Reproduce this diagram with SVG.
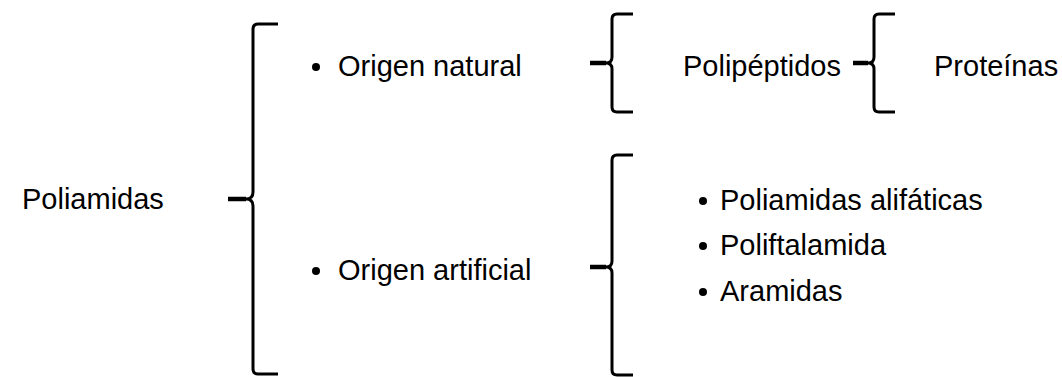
<svg xmlns="http://www.w3.org/2000/svg" width="1062" height="377" viewBox="0 0 1062 377">
<style>
.t{font-family:"Liberation Sans",Arial,sans-serif;font-size:29px;fill:#000}
.b{fill:none;stroke:#000;stroke-width:3;stroke-linecap:butt;stroke-linejoin:round}
.tip{fill:none;stroke:#000;stroke-width:4.5}
</style>
<rect width="1062" height="377" fill="#fff"/>
<g id="connectors">
<g id="brace-main">
<path class="b" d="M278,24 L258,24 Q253,24 253,29 L253,192 Q253,199 246,199 M246,199 Q253,199 253,206 L253,369 Q253,374 258,374 L278,374"/>
<path class="tip" d="M228,199 L246,199"/>
</g>
<g id="brace-natural">
<path class="b" d="M633,14 L617,14 Q612,14 612,19 L612,57 Q612,63 606,63 M606,63 Q612,63 612,69 L612,107 Q612,112 617,112 L633,112"/>
<path class="tip" d="M590,63 L606,63"/>
</g>
<g id="brace-artificial">
<path class="b" d="M633,155 L617,155 Q612,155 612,160 L612,261 Q612,267 606,267 M606,267 Q612,267 612,273 L612,370 Q612,375 617,375 L633,375"/>
<path class="tip" d="M590,267 L606,267"/>
</g>
<g id="brace-polipeptidos">
<path class="b" d="M895,14 L879,14 Q874,14 874,19 L874,57 Q874,63 868,63 M868,63 Q874,63 874,69 L874,107 Q874,112 879,112 L895,112"/>
<path class="tip" d="M853,63 L868,63"/>
</g>
</g>
<g id="poliamidas"><text class="t" x="22" y="209">Poliamidas</text></g>
<g id="origen-natural"><circle cx="316" cy="67" r="4"/><text class="t" x="338" y="76">Origen natural</text></g>
<g id="polipeptidos"><text class="t" x="683" y="76">Polipéptidos</text></g>
<g id="proteinas"><text class="t" x="934" y="76">Proteínas</text></g>
<g id="origen-artificial"><circle cx="316" cy="271" r="4"/><text class="t" x="338" y="280">Origen artificial</text></g>
<g id="alifaticas"><circle cx="703" cy="201" r="4"/><text class="t" x="720" y="210">Poliamidas alifáticas</text></g>
<g id="poliftalamida"><circle cx="703" cy="246" r="4"/><text class="t" x="720" y="255">Poliftalamida</text></g>
<g id="aramidas"><circle cx="703" cy="292" r="4"/><text class="t" x="720" y="301">Aramidas</text></g>
</svg>
